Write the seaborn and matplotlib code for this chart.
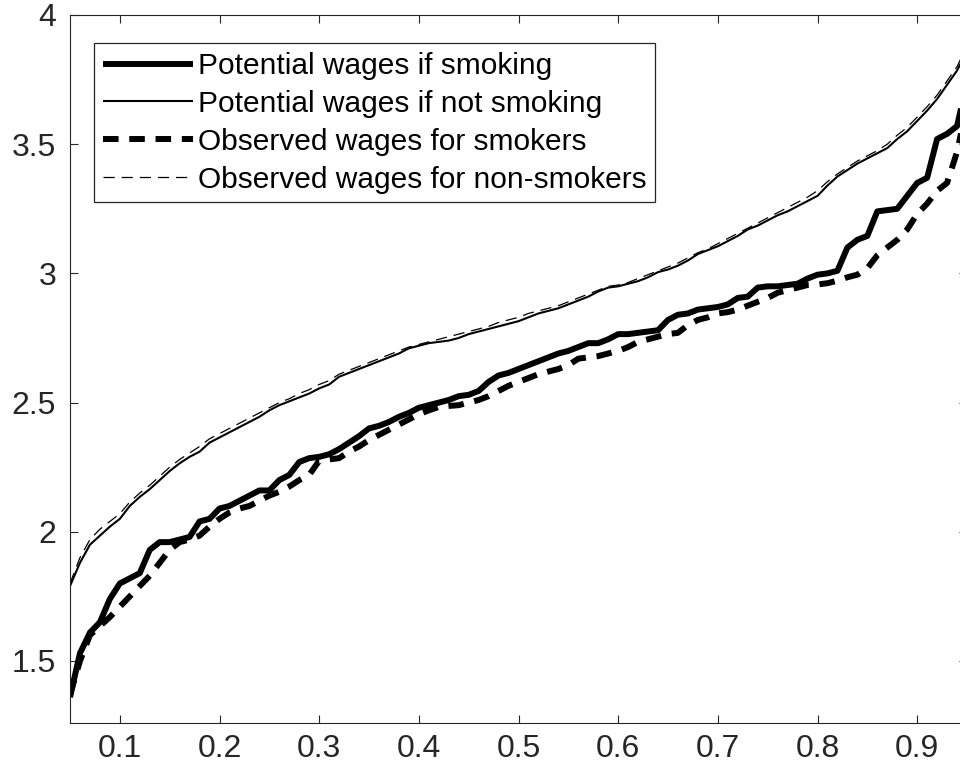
import numpy as np
import pandas as pd
import matplotlib
matplotlib.use("Agg")
import matplotlib.pyplot as plt
import seaborn as sns

# Quantile levels (tau) of the log-wage distribution
quantiles = [round(0.05 + 0.01 * i, 2) for i in range(91)]

# Potential wages if smoking (counterfactual quantiles)
pot_smoking = [
    1.36, 1.53, 1.61, 1.65, 1.74, 1.80, 1.82, 1.84, 1.93, 1.96,
    1.96, 1.97, 1.98, 2.04, 2.05, 2.09, 2.10, 2.12, 2.14, 2.16,
    2.16, 2.20, 2.22, 2.27, 2.285, 2.29, 2.30, 2.32, 2.345, 2.37,
    2.40, 2.41, 2.425, 2.445, 2.46, 2.48, 2.49, 2.50, 2.51, 2.525,
    2.53, 2.545, 2.58, 2.605, 2.615, 2.63, 2.645, 2.66, 2.675, 2.69,
    2.70, 2.715, 2.73, 2.73, 2.745, 2.765, 2.765, 2.77, 2.775, 2.78,
    2.82, 2.84, 2.845, 2.86, 2.865, 2.87, 2.88, 2.905, 2.91, 2.945,
    2.95, 2.95, 2.955, 2.96, 2.98, 2.995, 3.00, 3.01, 3.10, 3.13,
    3.145, 3.24, 3.245, 3.25, 3.30, 3.35, 3.37, 3.52, 3.54, 3.57,
    3.74,
]

# Potential wages if not smoking
pot_not_smoking = [
    1.79, 1.88, 1.95, 1.985, 2.02, 2.05, 2.10, 2.135, 2.165, 2.20,
    2.235, 2.265, 2.29, 2.31, 2.345, 2.365, 2.385, 2.405, 2.425, 2.445,
    2.47, 2.49, 2.505, 2.52, 2.535, 2.555, 2.57, 2.60, 2.615, 2.63,
    2.645, 2.66, 2.675, 2.69, 2.71, 2.72, 2.73, 2.735, 2.74, 2.75,
    2.765, 2.775, 2.785, 2.795, 2.805, 2.815, 2.83, 2.845, 2.855, 2.865,
    2.88, 2.895, 2.91, 2.93, 2.945, 2.95, 2.96, 2.97, 2.985, 3.005,
    3.015, 3.03, 3.05, 3.075, 3.09, 3.105, 3.125, 3.145, 3.17, 3.185,
    3.205, 3.225, 3.24, 3.26, 3.28, 3.30, 3.34, 3.375, 3.40, 3.425,
    3.445, 3.465, 3.485, 3.52, 3.55, 3.59, 3.63, 3.675, 3.73, 3.785,
    3.86,
]

# Observed wages for smokers
obs_smokers = [
    1.37, 1.50, 1.60, 1.635, 1.67, 1.71, 1.75, 1.79, 1.83, 1.88,
    1.93, 1.96, 1.97, 1.985, 2.02, 2.05, 2.075, 2.09, 2.10, 2.12,
    2.14, 2.155, 2.175, 2.20, 2.22, 2.275, 2.28, 2.285, 2.31, 2.33,
    2.355, 2.375, 2.395, 2.415, 2.435, 2.455, 2.47, 2.483, 2.487, 2.49,
    2.50, 2.51, 2.525, 2.545, 2.565, 2.58, 2.595, 2.61, 2.62, 2.63,
    2.645, 2.67, 2.675, 2.68, 2.69, 2.70, 2.715, 2.735, 2.745, 2.755,
    2.765, 2.77, 2.80, 2.82, 2.83, 2.845, 2.85, 2.86, 2.875, 2.89,
    2.905, 2.925, 2.935, 2.945, 2.955, 2.957, 2.962, 2.972, 2.985, 2.995,
    3.02, 3.07, 3.10, 3.13, 3.17, 3.23, 3.27, 3.32, 3.35, 3.47,
    3.65,
]

# Observed wages for non-smokers
obs_non_smokers = [
    1.80, 1.90, 1.97, 2.01, 2.04, 2.07, 2.115, 2.15, 2.18, 2.215,
    2.25, 2.28, 2.305, 2.33, 2.36, 2.38, 2.40, 2.42, 2.44, 2.46,
    2.48, 2.50, 2.515, 2.535, 2.55, 2.57, 2.585, 2.61, 2.625, 2.64,
    2.655, 2.67, 2.685, 2.70, 2.715, 2.725, 2.735, 2.745, 2.755, 2.765,
    2.775, 2.785, 2.795, 2.81, 2.82, 2.83, 2.845, 2.855, 2.865, 2.875,
    2.89, 2.905, 2.92, 2.935, 2.95, 2.955, 2.965, 2.98, 2.995, 3.01,
    3.025, 3.04, 3.06, 3.08, 3.095, 3.115, 3.135, 3.155, 3.175, 3.195,
    3.215, 3.235, 3.255, 3.275, 3.295, 3.32, 3.355, 3.385, 3.41, 3.435,
    3.455, 3.475, 3.50, 3.535, 3.565, 3.605, 3.645, 3.69, 3.745, 3.80,
    3.88,
]

labels = [
    "Potential wages if smoking",
    "Potential wages if not smoking",
    "Observed wages for smokers",
    "Observed wages for non-smokers",
]

x_ticks = [0.1, 0.2, 0.3, 0.4, 0.5, 0.6, 0.7, 0.8, 0.9]
x_tick_labels = ["0.1", "0.2", "0.3", "0.4", "0.5", "0.6", "0.7", "0.8", "0.9"]
y_ticks = [1.5, 2.0, 2.5, 3.0, 3.5, 4.0]
y_tick_labels = ["1.5", "2", "2.5", "3", "3.5", "4"]

df = pd.DataFrame({
    "tau": quantiles * 4,
    "wage": pot_smoking + pot_not_smoking + obs_smokers + obs_non_smokers,
    "series": sum([[lab] * len(quantiles) for lab in labels], []),
})

sns.set_theme(style="white")
plt.rcParams["font.family"] = ["Liberation Sans", "DejaVu Sans"]

fig = plt.figure(figsize=(9.6, 7.8), dpi=100)
ax = fig.add_axes([70 / 960, 57 / 780, 897 / 960, 708 / 780])

styles = {
    labels[0]: dict(lw=4.3, dashes=None),
    labels[1]: dict(lw=1.5, dashes=None),
    labels[2]: dict(lw=4.3, dashes=(2.6, 1.8)),
    labels[3]: dict(lw=0.9, dashes=(9.0, 5.5)),
}

for lab in labels:
    st = styles[lab]
    sub = df[df["series"] == lab]
    sns.lineplot(data=sub, x="tau", y="wage", ax=ax, color="black",
                 linewidth=st["lw"], label=lab, estimator=None, sort=False)
    line = ax.get_lines()[-1]
    line.set_solid_capstyle("butt")
    line.set_solid_joinstyle("round")
    if st["dashes"] is not None:
        line.set_dashes(st["dashes"])
        line.set_dash_capstyle("butt")

ax.set_xlim(0.05, 0.95)
ax.set_ylim(1.26, 4.0)
ax.set_xticks(x_ticks)
ax.set_xticklabels(x_tick_labels)
ax.set_yticks(y_ticks)
ax.set_yticklabels(y_tick_labels)
ax.set_xlabel("")
ax.set_ylabel("")

spine_col = "#262626"
for s in ax.spines.values():
    s.set_visible(True)
    s.set_color(spine_col)
    s.set_linewidth(0.8)

ax.tick_params(axis="both", which="major", direction="in", length=6,
               width=0.8, color=spine_col, labelsize=23, labelcolor=spine_col,
               top=True, right=True, bottom=True, left=True)
ax.tick_params(axis="x", pad=8)
ax.tick_params(axis="y", pad=10)

leg = ax.legend(loc="upper left", bbox_to_anchor=((94 - 70) / 897, 1 - (43 - 15) / 708),
                borderaxespad=0, fontsize=21.5, frameon=True, fancybox=False,
                handlelength=3.0, handletextpad=0.17, labelspacing=0.33,
                borderpad=0.3)
frame = leg.get_frame()
frame.set_edgecolor(spine_col)
frame.set_linewidth(0.9)
frame.set_facecolor("white")
frame.set_alpha(1.0)
for t in leg.get_texts():
    t.set_color("black")

fig.savefig("out.png", dpi=100)
